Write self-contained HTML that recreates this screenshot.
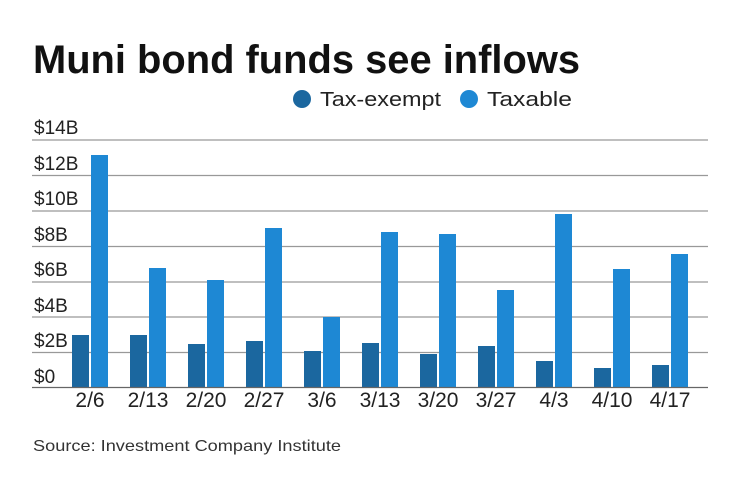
<!DOCTYPE html>
<html><head><style>
body{margin:0;background:#fff;}
svg{display:block;font-family:"Liberation Sans",sans-serif;}
</style></head><body>
<svg width="740" height="482" viewBox="0 0 740 482" xmlns="http://www.w3.org/2000/svg">
<text x="33" y="73" font-size="40" font-weight="bold" fill="#111" textLength="547" lengthAdjust="spacingAndGlyphs">Muni bond funds see inflows</text>
<circle cx="302" cy="99" r="9" fill="#1b679f"/>
<text x="320" y="106" font-size="20" fill="#222" textLength="121" lengthAdjust="spacingAndGlyphs">Tax-exempt</text>
<circle cx="469" cy="99" r="9" fill="#1e88d4"/>
<text x="487" y="106" font-size="20" fill="#222" textLength="85" lengthAdjust="spacingAndGlyphs">Taxable</text>
<g stroke="#999" stroke-width="1.3">
<line x1="32" x2="708" y1="140" y2="140"/>
<line x1="32" x2="708" y1="175.5" y2="175.5"/>
<line x1="32" x2="708" y1="211" y2="211"/>
<line x1="32" x2="708" y1="246.5" y2="246.5"/>
<line x1="32" x2="708" y1="282" y2="282"/>
<line x1="32" x2="708" y1="317" y2="317"/>
<line x1="32" x2="708" y1="352.5" y2="352.5"/>
</g>
<g font-size="19" fill="#222">
<text x="34" y="134">$14B</text>
<text x="34" y="170">$12B</text>
<text x="34" y="205">$10B</text>
<text x="34" y="241">$8B</text>
<text x="34" y="276">$6B</text>
<text x="34" y="312">$4B</text>
<text x="34" y="347">$2B</text>
<text x="34" y="383">$0</text>
</g>
<g fill="#1b679f">
<rect x="72" y="335" width="17" height="52"/>
<rect x="130" y="335" width="17" height="52"/>
<rect x="188" y="344" width="17" height="43"/>
<rect x="246" y="341" width="17" height="46"/>
<rect x="304" y="351" width="17" height="36"/>
<rect x="362" y="343" width="17" height="44"/>
<rect x="420" y="354" width="17" height="33"/>
<rect x="478" y="346" width="17" height="41"/>
<rect x="536" y="361" width="17" height="26"/>
<rect x="594" y="368" width="17" height="19"/>
<rect x="652" y="365" width="17" height="22"/>
</g>
<g fill="#1e88d4">
<rect x="91" y="155" width="17" height="232"/>
<rect x="149" y="268" width="17" height="119"/>
<rect x="207" y="280" width="17" height="107"/>
<rect x="265" y="228" width="17" height="159"/>
<rect x="323" y="317" width="17" height="70"/>
<rect x="381" y="232" width="17" height="155"/>
<rect x="439" y="234" width="17" height="153"/>
<rect x="497" y="290" width="17" height="97"/>
<rect x="555" y="214" width="17" height="173"/>
<rect x="613" y="269" width="17" height="118"/>
<rect x="671" y="254" width="17" height="133"/>
</g>
<line x1="32" x2="708" y1="387.5" y2="387.5" stroke="#666" stroke-width="1.3"/>
<g font-size="21" fill="#222" text-anchor="middle">
<text x="90" y="407">2/6</text>
<text x="148" y="407">2/13</text>
<text x="206" y="407">2/20</text>
<text x="264" y="407">2/27</text>
<text x="322" y="407">3/6</text>
<text x="380" y="407">3/13</text>
<text x="438" y="407">3/20</text>
<text x="496" y="407">3/27</text>
<text x="554" y="407">4/3</text>
<text x="612" y="407">4/10</text>
<text x="670" y="407">4/17</text>
</g>
<text x="33" y="451" font-size="16" fill="#333" textLength="308" lengthAdjust="spacingAndGlyphs">Source: Investment Company Institute</text>
</svg>
</body></html>
